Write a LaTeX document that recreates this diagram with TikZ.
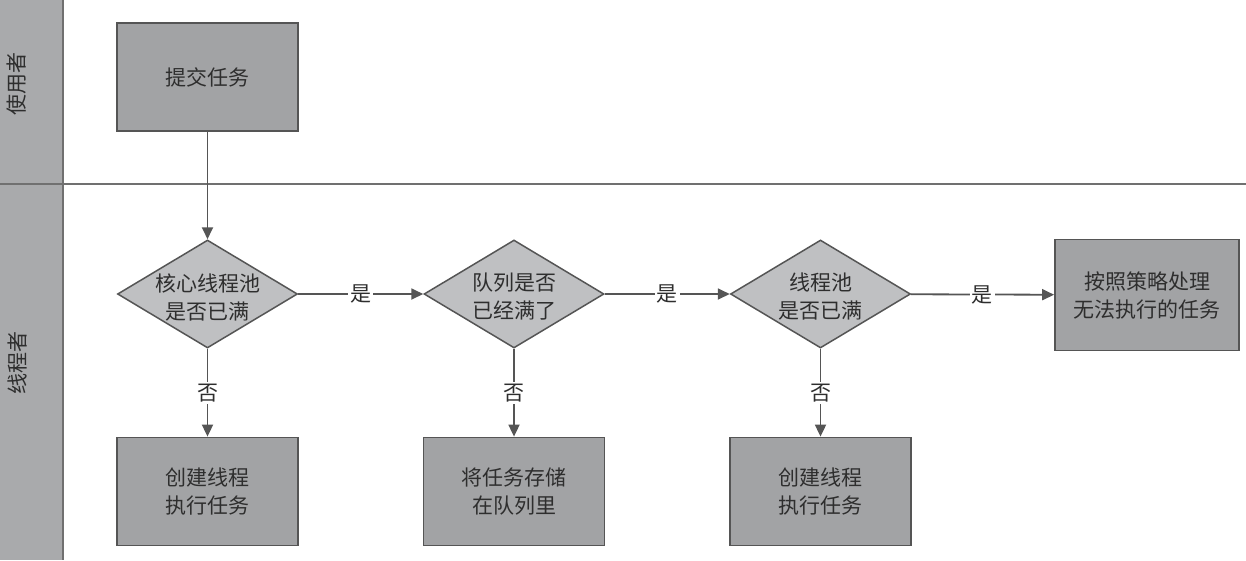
\documentclass[tikz,border=0pt]{standalone}
\usepackage{fontspec}
\setmainfont{Noto Sans CJK SC}
\usetikzlibrary{shapes.geometric,arrows.meta}
\definecolor{lanefill}{HTML}{A9AAAC}
\definecolor{boxfill}{HTML}{A2A3A5}
\definecolor{diafill}{HTML}{BFC0C2}
\definecolor{edgecol}{HTML}{555555}
\definecolor{txtcol}{HTML}{2E2E2E}
\definecolor{lanecol}{HTML}{707070}
\tikzset{
  stepbox/.style={draw=edgecol, line width=1.8pt, fill=boxfill, minimum width=181pt, minimum height=108pt, inner sep=0pt, align=center, text=txtcol, font=\fontsize{21}{28}\selectfont},
  decision/.style={diamond, draw=edgecol, line width=1.5pt, fill=diafill, minimum width=180pt, minimum height=108pt, inner sep=0pt},
  dtext/.style={inner sep=0pt, align=center, text=txtcol, font=\fontsize{21}{28}\selectfont},
  flow/.style={draw=edgecol, line width=1.8pt, -{Triangle[length=12pt,width=11pt]}},
  elabel/.style={fill=white, inner sep=2pt, text=txtcol, font=\fontsize{21}{24}\selectfont},
  lanetext/.style={rotate=90, text=txtcol, inner sep=0pt, font=\fontsize{21}{24}\selectfont},
}
\begin{document}
\begin{tikzpicture}[x=1pt,y=-1pt]
\useasboundingbox (0,0) rectangle (1246,560);
% lanes
\fill[white] (0,0) rectangle (1246,560);
\fill[lanefill] (0,0) rectangle (63,560);
\draw[lanecol, line width=2.5pt] (0,184) -- (1246,184);
\draw[lanecol, line width=2.5pt] (63,0) -- (63,560);
\node[lanetext] (lane1) at (17,84) {使用者};
\node[lanetext] (lane2) at (17,363) {线程者};
% nodes
\node[stepbox] (submit) at (207.5,77) {提交任务};
\node[decision] (d1) at (207.5,294) {};
\node[dtext] (d1t) at (207.5,297) {核心线程池\\是否已满};
\node[decision] (d2) at (514,294) {};
\node[dtext] (d2t) at (514,297) {队列是否\\已经满了};
\node[decision] (d3) at (820.5,294) {};
\node[dtext] (d3t) at (820.5,297) {线程池\\是否已满};
\node[stepbox, minimum width=184pt, minimum height=111pt] (reject) at (1147,295) {按照策略处理\\无法执行的任务};
\node[stepbox] (b1) at (207.5,491.5) {创建线程\\执行任务};
\node[stepbox] (b2) at (514,491.5) {将任务存储\\在队列里};
\node[stepbox] (b3) at (820.5,491.5) {创建线程\\执行任务};
% connectors
\draw[flow] (submit) -- (d1);
\draw[flow] (d1) -- node[elabel] (y1) {是} (d2);
\draw[flow] (d2) -- node[elabel] (y2) {是} (d3);
\draw[flow] (d3) -- node[elabel] (y3) {是} (reject);
\draw[flow] (d1) -- node[elabel] (n1) {否} (b1);
\draw[flow] (d2) -- node[elabel] (n2) {否} (b2);
\draw[flow] (d3) -- node[elabel] (n3) {否} (b3);
\end{tikzpicture}
\end{document}
